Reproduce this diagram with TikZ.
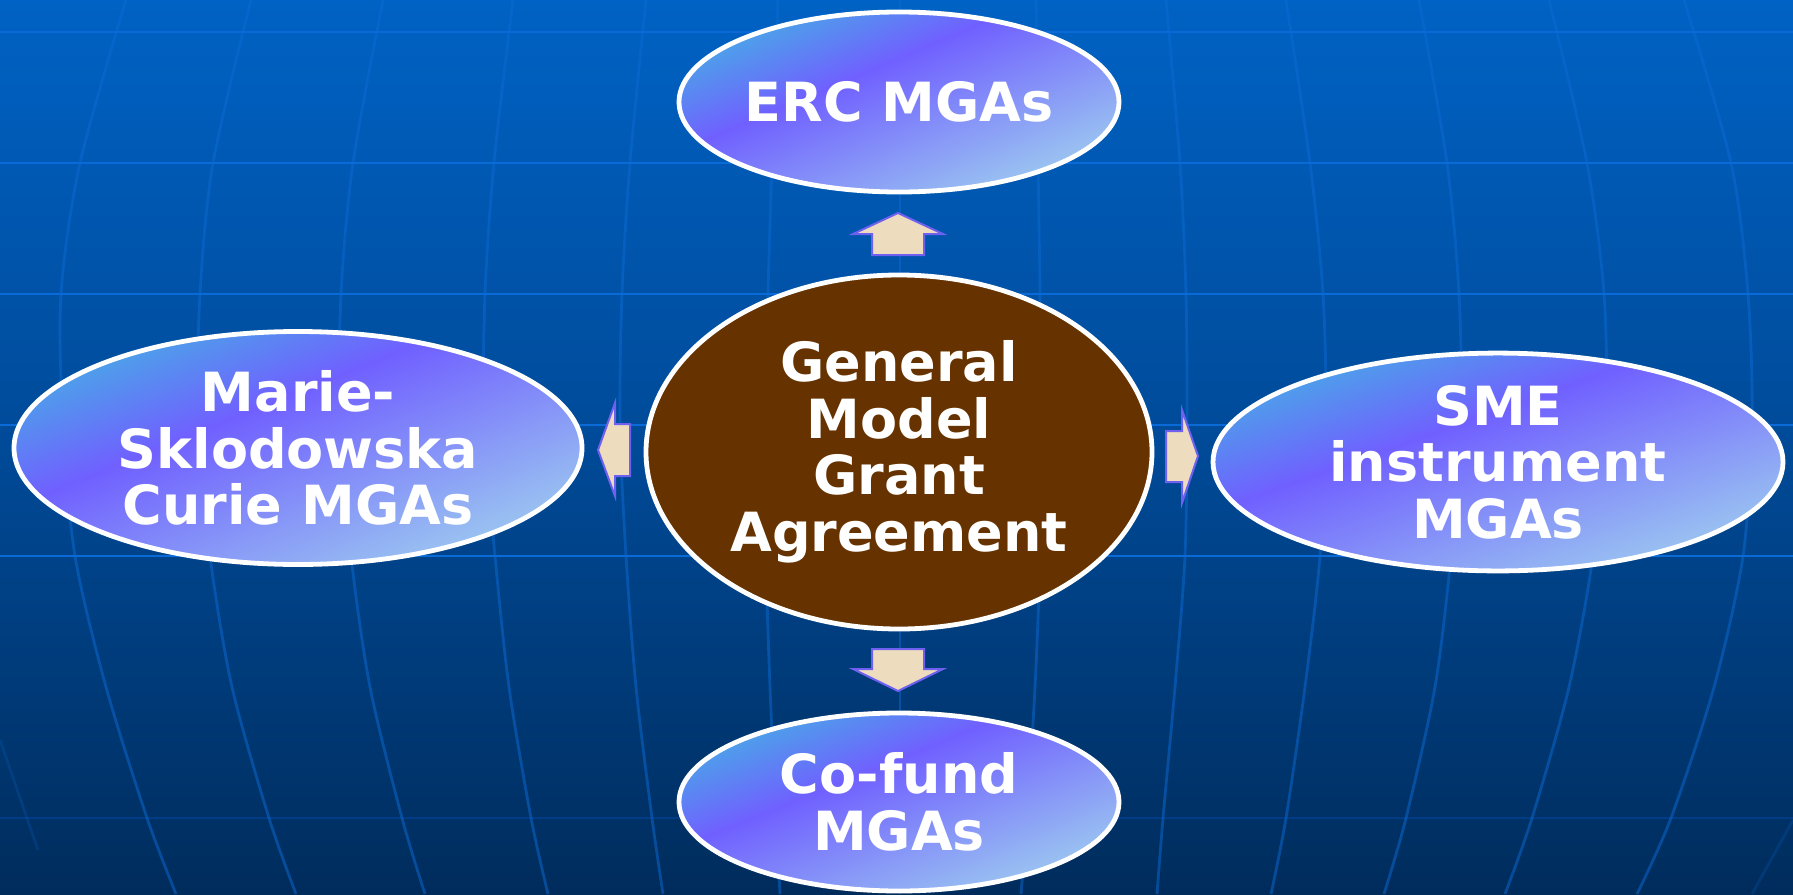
\documentclass[tikz,border=0pt]{standalone}
\usepackage{fontspec}
\setmainfont{DejaVu Sans}
\usetikzlibrary{shapes.geometric}
\definecolor{bgtop}{HTML}{0062C4}
\definecolor{bgmid}{HTML}{004A98}
\definecolor{bgbot}{HTML}{002C5C}
\definecolor{hlinecol}{HTML}{0A6AD8}
\definecolor{hlinedark}{HTML}{003D86}
\definecolor{vlinecol}{HTML}{0C6AD4}
\definecolor{mgaA}{HTML}{4AA6E8}
\definecolor{mgaB}{HTML}{7060FF}
\definecolor{mgaC}{HTML}{9CC8F0}
\definecolor{coreBrown}{HTML}{663300}
\definecolor{arrowFill}{HTML}{EDDCBD}
\definecolor{arrowEdge}{HTML}{7060F0}
\pgfdeclareverticalshading{mgashade}{100bp}{color(0bp)=(mgaC); color(25bp)=(mgaC); color(58bp)=(mgaB); color(75bp)=(mgaA); color(100bp)=(mgaA)}
\tikzset{
  hline/.style={draw=hlinecol, line width=1.4pt},
  vline/.style={draw=vlinecol, draw opacity=0.5, line width=1.4pt},
  bubble/.style={ellipse, inner sep=0pt, draw=white, line width=2.4pt, text=white,
    font=\bfseries\fontsize{27pt}{28.3pt}\selectfont, align=center},
  mga/.style={bubble, shading=mgashade},
  core/.style={bubble, fill=coreBrown},
  blockarrow/.style={fill=arrowFill, draw=arrowEdge, line width=1pt, line join=miter}
}
\begin{document}
\begin{tikzpicture}[x=0.5pt,y=-0.5pt]
\useasboundingbox (0,0) rectangle (1793,894);
\fill[top color=bgtop, bottom color=bgbot, middle color=bgmid] (0,0) rectangle (1793,894);
% horizontal grid lines
\foreach \yy in {32,163,294,425,556} \draw[hline] (0,\yy) -- (1793,\yy);
\draw[hline, draw=hlinedark] (0,818) -- (1793,818);
% meridian-like curves
\draw[vline] plot[smooth] coordinates {(126,0) (80,163) (61,294) (63,425) (75,556) (106,687) (147,818) (176,894)};
\draw[vline] plot[smooth] coordinates {(251,0) (213,163) (200,294) (198,425) (210,556) (232,687) (269,818) (296,894)};
\draw[vline] plot[smooth] coordinates {(383,0) (353,163) (341,294) (340,425) (351,556) (370,687) (402,818) (425,894)};
\draw[vline] plot[smooth] coordinates {(513,0) (494,163) (485,294) (484,425) (495,556) (509,687) (531,818) (548,894)};
\draw[vline] plot[smooth] coordinates {(646,0) (630,163) (622,294) (620,425) (626,556) (636,687) (652,818) (663,894)};
\draw[vline] plot[smooth] coordinates {(778,0) (772,163) (768,294) (766,425) (766,556) (770,687) (776,818) (780,894)};
\draw[vline] (900,0) -- (900,894);
\draw[vline] plot[smooth] coordinates {(1036,0) (1038,163) (1040,294) (1040,425) (1040,556) (1035,687) (1027,818) (1021,894)};
\draw[vline] plot[smooth] coordinates {(1166,0) (1180,163) (1186,294) (1187,425) (1185,556) (1175,687) (1163,818) (1157,894)};
\draw[vline] plot[smooth] coordinates {(1286,0) (1310,163) (1323,294) (1326,425) (1320,556) (1305,687) (1286,818) (1271,894)};
\draw[vline] plot[smooth] coordinates {(1419,0) (1447,163) (1459,294) (1461,425) (1451,556) (1435,687) (1406,818) (1384,894)};
\draw[vline] plot[smooth] coordinates {(1549,0) (1587,163) (1604,294) (1606,425) (1593,556) (1569,687) (1532,818) (1505,894)};
\draw[vline] plot[smooth] coordinates {(1684,0) (1731,163) (1748,294) (1752,425) (1743,556) (1714,687) (1671,818) (1637,894)};
\draw[vline, draw opacity=0.2] (0,740) -- (38,850);
\draw[vline, draw opacity=0.2] (1793,820) -- (1752,894);
% bubbles
\node[core, minimum width=253pt, minimum height=177pt] (gmga) at (899,452) {General\\Model\\Grant\\Agreement};
\node[mga, shading angle=23, minimum width=220pt, minimum height=90pt] (erc) at (899,102) {ERC MGAs};
\node[mga, shading angle=22, minimum width=220pt, minimum height=89pt] (cofund) at (899,802) {Co-fund\\MGAs};
\node[mga, shading angle=22, minimum width=284pt, minimum height=116.5pt] (msca) at (298,448) {Marie-\\Sklodowska\\Curie MGAs};
\node[mga, shading angle=19.5, minimum width=285pt, minimum height=99.5pt] (sme) at (1498,462) {SME\\instrument\\MGAs};
% block arrows
\draw[blockarrow] (898,213) -- (943,234) -- (924,234) -- (924,255) -- (872,255) -- (872,234) -- (853,234) -- cycle;
\draw[blockarrow] (872,649) -- (924,649) -- (924,669) -- (943,669) -- (898,691) -- (853,669) -- (872,669) -- cycle;
\draw[blockarrow] (598,450) -- (615,403) -- (615,424) -- (630,424) -- (630,476) -- (615,476) -- (615,496) -- cycle;
\draw[blockarrow] (1166,431) -- (1182,431) -- (1182,410) -- (1198,456) -- (1182,503) -- (1182,482) -- (1166,482) -- cycle;
\end{tikzpicture}
\end{document}
